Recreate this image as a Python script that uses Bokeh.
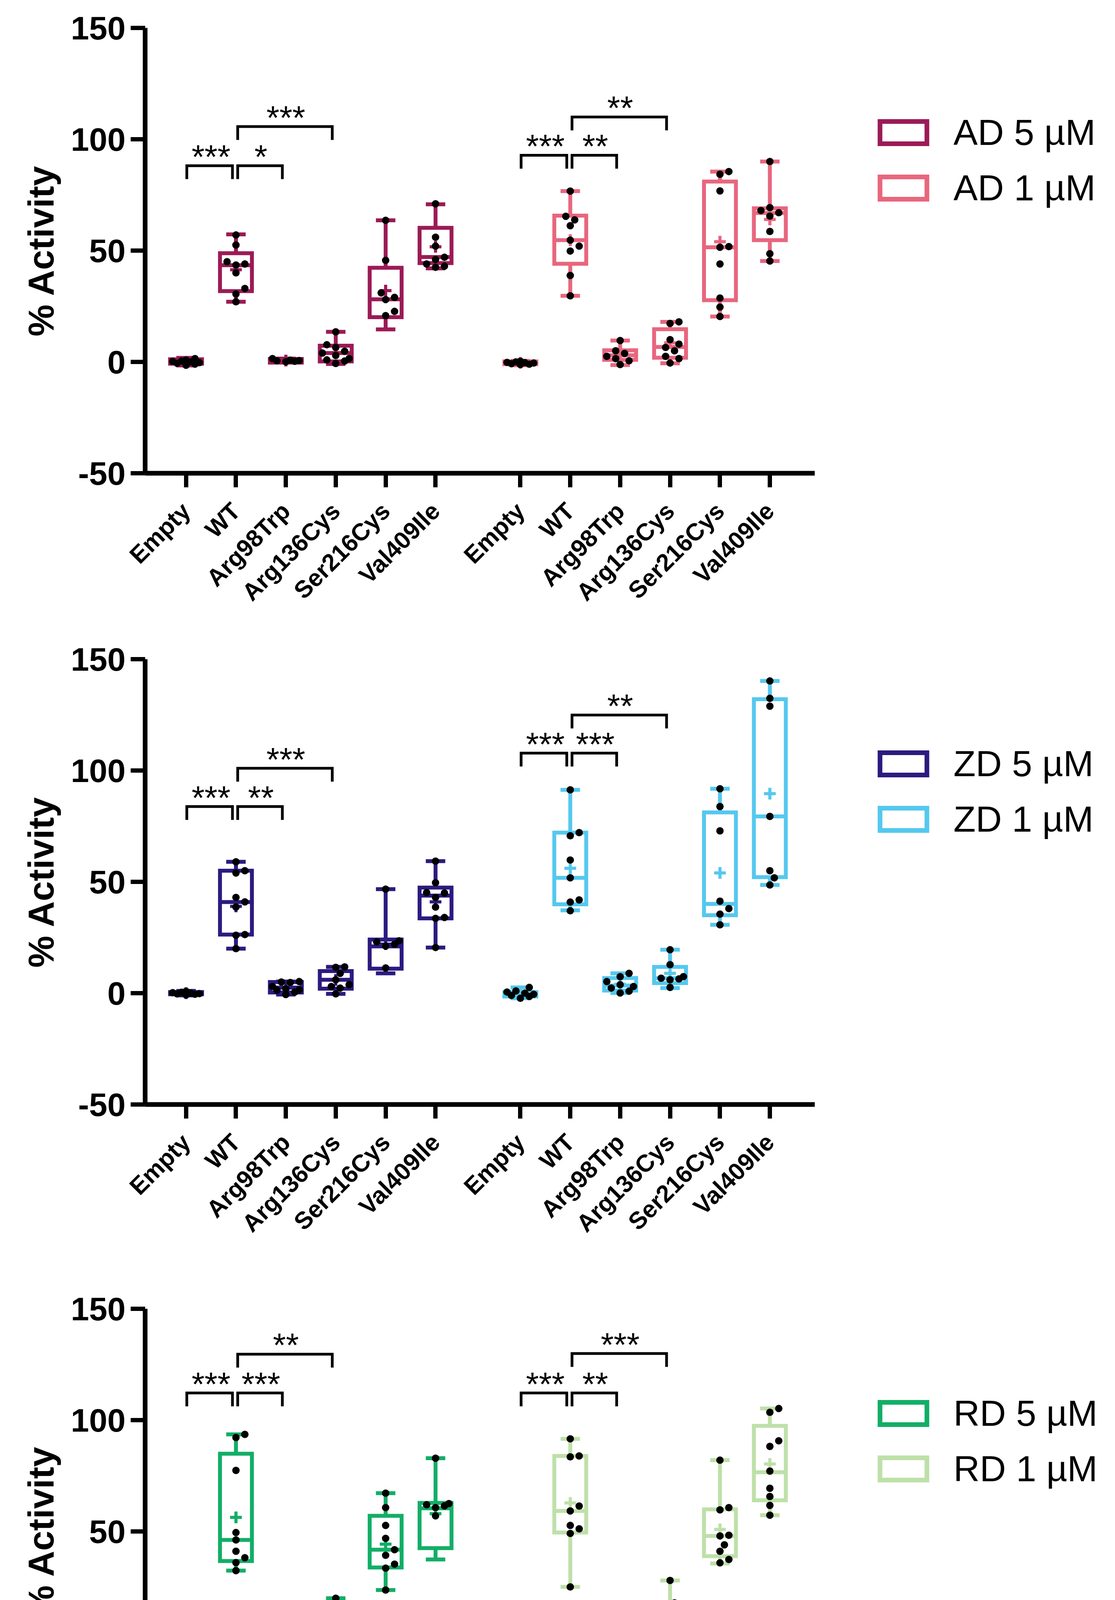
import math
from bokeh.plotting import figure
from bokeh.models import Range1d, FixedTicker, ColumnDataSource
from bokeh.layouts import column, row
from bokeh.embed import file_html
from bokeh.resources import INLINE
from bokeh.core.properties import value

# ---------------- data ----------------
categories = ["Empty", "WT", "Arg98Trp", "Arg136Cys", "Ser216Cys", "Val409Ile"]
y_ticks = [-50, 0, 50, 100, 150]
y_tick_labels = ["-50", "0", "50", "100", "150"]
y_label = "% Activity"

# Panel 1 : AD 5 uM
AD5_points = [[1.5, 0.8, 0.4, 0.0, -0.3, -0.6, -1.0, -1.5, 0.2],
              [57, 52.5, 45, 44, 43.5, 40, 33, 30.5, 27],
              [1.5, 0.8, 0.5, 0.3, 0.1, 0.6],
              [13.5, 7.7, 6.5, 4.8, 4.0, 2.9, 1.5, 0.9, 0.4, -0.7],
              [63.6, 45.6, 31, 29, 28, 22.7, 20.8],
              [71, 56, 52, 47, 46, 44, 43, 42.5]]
AD5_min = [-1.6, 27, 0.0, -0.9, 14.6, 42]
AD5_q1 = [-0.8, 31.8, -0.3, 0.2, 20.1, 44.4]
AD5_med = [0.0, 43.4, 0.5, 4.0, 28.1, 47.1]
AD5_q3 = [1.2, 48.8, 1.3, 7.3, 42.3, 60.2]
AD5_max = [1.8, 57.3, 1.5, 13.5, 63.6, 70.8]
AD5_mean = [0.0, 41.4, 0.6, 4.0, 32.0, 51.7]

# Panel 1 : AD 1 uM
AD1_points = [[0.3, 0.0, -0.3, -0.5, -0.8, -1.0, -1.2, -0.2],
              [76.7, 65.4, 63.8, 61.2, 54.7, 52, 49.8, 38.8, 29.7],
              [9.6, 5.0, 3.8, 2.5, 1.5, 0.5, -1.2],
              [18, 17.3, 10, 8, 6.5, 5, 2.5, 1.5, -0.5],
              [85.5, 84.3, 76.8, 51.8, 51.5, 44, 28.7, 24.6, 20.4],
              [90, 69.3, 68, 67, 65.5, 58.6, 48.6, 45.3]]
AD1_min = [-1.5, 29.7, -1.4, -0.6, 20.4, 45.3]
AD1_q1 = [-1.0, 44.1, 0.9, 1.9, 27.7, 54.7]
AD1_med = [-0.4, 54.7, 3.0, 6.7, 51.5, 66.9]
AD1_q3 = [0.2, 65.7, 5.2, 14.7, 81.0, 69.0]
AD1_max = [0.5, 76.7, 9.6, 18.0, 85.5, 90.0]
AD1_mean = [-0.4, 54.7, 3.1, 8.6, 54.0, 64.0]

# Panel 2 : ZD 5 uM
ZD5_points = [[0.8, 0.4, 0.1, -0.2, -0.5, -0.8, 0.2, -0.3],
              [59, 55, 54, 43, 41, 38.7, 26.3, 26, 20],
              [5.2, 5.0, 4.8, 3.0, 2.0, 1.5, 1.3, 0.5, -0.6],
              [11.8, 11.6, 8.9, 6.0, 3.8, 3.0, 2.3, -0.3],
              [46.7, 23.5, 23.0, 22.0, 21.2, 11.3],
              [59.3, 49.6, 45.2, 45.0, 43, 38.7, 34, 33.6, 20.5]]
ZD5_min = [-1.0, 20, -0.6, -0.3, 8.9, 20.5]
ZD5_q1 = [-0.5, 26.3, 0.3, 2.0, 11.0, 33.6]
ZD5_med = [0.0, 40.9, 2.5, 6.0, 21.0, 43.8]
ZD5_q3 = [0.5, 55.0, 5.0, 9.9, 24.1, 47.4]
ZD5_max = [1.0, 59.0, 5.2, 11.8, 46.7, 59.3]
ZD5_mean = [0.0, 39.0, 2.5, 5.9, 22.0, 41.0]

# Panel 2 : ZD 1 uM
ZD1_points = [[2.6, 1.0, 0.5, 0.0, -0.5, -1.0, -1.5, -2.3],
              [91.3, 72.1, 70.7, 59.8, 51.8, 41.9, 40.9, 37.0],
              [8.9, 7.4, 5.2, 3.8, 3.0, 2.3, 0.9, 0.1],
              [19.5, 12.8, 7.4, 6.7, 6.4, 6.0, 2.6],
              [91.8, 83.8, 72.9, 41.3, 38.0, 35.5, 30.7],
              [140.2, 132.4, 128.9, 79.4, 55.0, 51.8, 48.6]]
ZD1_min = [-2.3, 37.2, 0.1, 2.3, 30.7, 48.6]
ZD1_q1 = [-1.5, 39.9, 1.2, 4.5, 35.0, 52.1]
ZD1_med = [-0.3, 51.8, 3.4, 6.7, 40.1, 79.4]
ZD1_q3 = [0.5, 72.1, 6.8, 11.8, 81.2, 132.0]
ZD1_max = [2.6, 91.3, 8.9, 19.5, 91.8, 140.2]
ZD1_mean = [-0.2, 56.1, 4.0, 8.9, 54.0, 89.6]

# Panel 3 : RD 5 uM
RD5_points = [[0.6, 0.3, 0.0, -0.2, -0.4, -0.6, 0.1, -0.1],
              [93.6, 92.2, 77.4, 49.5, 46.2, 41.1, 38.2, 36.0, 32.4],
              [7.4, 7.2, 7.0, 3.6, 3.4, 2.2, 2.0, -0.7, -0.5],
              [20, 10.6, 9.1, 7.4, 5.5, 4.8, 4.6],
              [67.2, 60.7, 52.7, 46.9, 41.8, 39.3, 35.3, 33.5, 23.7],
              [82.9, 62.5, 62.0, 61.5, 60.7, 57.0]]
RD5_min = [-1.0, 32.4, -1.0, 4.5, 23.7, 37.4]
RD5_q1 = [-0.5, 36.7, 0.4, 4.8, 33.8, 42.5]
RD5_med = [0.0, 46.2, 3.4, 7.7, 41.8, 60.4]
RD5_q3 = [0.4, 84.9, 7.0, 11.3, 57.0, 62.8]
RD5_max = [0.8, 93.6, 7.4, 20.0, 67.2, 82.9]
RD5_mean = [0.0, 56.3, 3.5, 8.9, 44.3, 58.0]

# Panel 3 : RD 1 uM
RD1_points = [[0.5, 0.2, 0.0, -0.2, -0.4, -0.7, 0.1, -0.3],
              [91.6, 83.9, 83.5, 61.4, 59.2, 52.7, 51.2, 49.1, 25.1],
              [9.1, 8.4, 5.5, 4.8, 4.5, 4.1, 3.6],
              [28, 17.9, 14.7, 10.6, 8.9, 8.0, 7.0, 5.5],
              [82, 60.7, 59.7, 48.3, 48.0, 44.0, 41.1, 37.4, 35.9],
              [105.2, 103.5, 90.7, 88.2, 77.1, 69.4, 65.7, 61.7, 57.3]]
RD1_min = [-1.0, 25.1, 3.6, 5.5, 35.6, 57.3]
RD1_q1 = [-0.5, 49.5, 3.8, 6.5, 38.9, 64.0]
RD1_med = [0.0, 59.2, 5.0, 9.1, 48.0, 76.6]
RD1_q3 = [0.4, 83.9, 7.8, 16.4, 59.9, 97.4]
RD1_max = [0.8, 91.6, 9.1, 28.0, 82.0, 105.2]
RD1_mean = [-0.1, 62.8, 5.6, 12.6, 50.9, 80.3]

# significance brackets: compared pairs (category indices) and levels
bracket_pairs = [(0, 1), (1, 2), (1, 3)]
AD5_br_levels = [88.1, 88.1, 105.7]
AD5_br_stars = ["***", "*", "***"]
AD1_br_levels = [92.8, 92.8, 110.0]
AD1_br_stars = ["***", "**", "**"]
ZD5_br_levels = [83.8, 83.8, 101.0]
ZD5_br_stars = ["***", "**", "***"]
ZD1_br_levels = [107.8, 107.8, 124.9]
ZD1_br_stars = ["***", "***", "**"]
RD5_br_levels = [112.2, 112.2, 129.6]
RD5_br_stars = ["***", "***", "**"]
RD1_br_levels = [112.2, 112.2, 129.9]
RD1_br_stars = ["***", "**", "***"]

legend_labels = [["AD 5 µM", "AD 1 µM"], ["ZD 5 µM", "ZD 1 µM"], ["RD 5 µM", "RD 1 µM"]]
colors = [["#9B1B56", "#E8667E"], ["#2D1A80", "#55C8EE"], ["#12AE66", "#BEE0A8"]]

# ---------------- layout / style ----------------
FONT = "Liberation Sans"
GROUP_START = [0, 67]       # x-offset of each dose group
SPACING = 10
X_LEFT, X_RIGHT = -8.2, 126.0
MAIN_W = 2192
LEG_W = 646
FRAME_W = 1714
FRAME_H = 1140
XPPU = FRAME_W / (X_RIGHT - X_LEFT)
YPPU = FRAME_H / 200.0
BOX_HALF = 3.2
CAP_HALF = 1.95
DOT = 19


def swarm(vals, dia=DOT, max_half=36):
    n = len(vals)
    order = sorted(range(n), key=lambda i: vals[i])
    step = dia * 0.6
    cands = [0.0]
    k = 1
    while k * step <= max_half:
        cands += [k * step, -k * step]
        k += 1
    placed = []
    off = [0.0] * n
    for i in order:
        y = vals[i] * YPPU
        best, best_d = 0.0, -1
        for c in cands:
            md = min((math.hypot(c - px, y - py) for px, py in placed), default=1e9)
            if md >= dia * 0.98:
                best = c
                break
            if md > best_d:
                best_d, best = md, c
        placed.append((best, y))
        off[i] = best / XPPU
    return off


def draw_series(p, x0, color, pts, mn, q1, md, q3, mx, mean):
    xs = [x0 + SPACING * i for i in range(len(categories))]
    src = ColumnDataSource(dict(x=xs, l=[x - BOX_HALF for x in xs], r=[x + BOX_HALF for x in xs],
                                cl=[x - CAP_HALF for x in xs], cr=[x + CAP_HALF for x in xs],
                                mn=mn, q1=q1, md=md, q3=q3, mx=mx, mean=mean))
    p.segment(x0="x", y0="q3", x1="x", y1="mx", source=src, line_color=color, line_width=10)
    p.segment(x0="x", y0="q1", x1="x", y1="mn", source=src, line_color=color, line_width=10)
    p.segment(x0="cl", y0="mx", x1="cr", y1="mx", source=src, line_color=color, line_width=10)
    p.segment(x0="cl", y0="mn", x1="cr", y1="mn", source=src, line_color=color, line_width=10)
    p.quad(left="l", right="r", bottom="q1", top="q3", source=src, fill_color="white",
           line_color=color, line_width=10, line_join="miter")
    p.segment(x0="l", y0="md", x1="r", y1="md", source=src, line_color=color, line_width=10)
    p.scatter(x="x", y="mean", source=src, marker="cross", size=30, line_width=8, line_color=color)
    dx, dy = [], []
    for i, vals in enumerate(pts):
        offs = swarm(vals)
        dx += [xs[i] + o for o in offs]
        dy += list(vals)
    p.scatter(x=dx, y=dy, size=DOT, fill_color="black", line_color=None)


def draw_brackets(p, x0, levels, stars):
    xsl, ysl, tx, ty, tt = [], [], [], [], []
    for (a, b), lev, s in zip(bracket_pairs, levels, stars):
        xa = x0 + SPACING * a + (0.15 if a == 0 else 0.35)
        xb = x0 + SPACING * b - 0.7
        xsl.append([xa, xa, xb, xb])
        ysl.append([lev - 6, lev, lev, lev - 6])
        tx.append((x0 + SPACING * a + x0 + SPACING * b) / 2.0)
        ty.append(lev + 4.0)
        tt.append(s)
    p.multi_line(xs=xsl, ys=ysl, line_color="black", line_width=7, line_join="miter")
    p.text(x=tx, y=ty, text=tt, text_font=value(FONT), text_font_size="85px",
           text_align="center", text_baseline="alphabetic", text_color="black")


def make_panel(k, series, brackets, H, mbt, mbb):
    p = figure(width=MAIN_W, height=H, x_range=Range1d(X_LEFT, X_RIGHT), y_range=Range1d(-50, 150),
               output_backend="svg", toolbar_location=None,
               min_border_left=371, min_border_right=MAIN_W - 371 - FRAME_W,
               min_border_top=mbt, min_border_bottom=mbb)
    p.grid.visible = False
    p.outline_line_color = None
    p.background_fill_color = "white"
    p.border_fill_color = "white"
    ticks = []
    overrides = {}
    for g in GROUP_START:
        for i, c in enumerate(categories):
            ticks.append(g + SPACING * i)
            overrides[g + SPACING * i] = c
    p.xaxis.ticker = FixedTicker(ticks=ticks)
    p.xaxis.major_label_overrides = overrides
    p.xaxis.major_label_orientation = math.pi / 4
    p.yaxis.ticker = FixedTicker(ticks=y_ticks)
    p.yaxis.major_label_overrides = dict(zip(y_ticks, y_tick_labels))
    for ax in (p.xaxis, p.yaxis):
        ax.axis_line_width = 12
        ax.axis_line_color = "black"
        ax.major_tick_line_width = 11
        ax.major_tick_line_color = "black"
        ax.major_tick_in = 0
        ax.minor_tick_line_color = None
        ax.major_label_text_font = FONT
        ax.major_label_text_font_style = "bold"
        ax.major_label_text_color = "black"
    p.xaxis.major_tick_out = 36
    p.yaxis.major_tick_out = 37
    p.xaxis.major_label_text_font_size = "62px"
    p.yaxis.major_label_text_font_size = "84px"
    p.xaxis.major_label_standoff = 50
    p.yaxis.major_label_standoff = 13
    p.yaxis.axis_label = y_label
    p.yaxis.axis_label_text_font = FONT
    p.yaxis.axis_label_text_font_style = "bold"
    p.yaxis.axis_label_text_font_size = "92px"
    p.yaxis.axis_label_text_color = "black"
    p.yaxis.axis_label_standoff = 22
    for g, (col, s) in zip(GROUP_START, series):
        draw_series(p, g, col, *s)
    for g, (lev, st) in zip(GROUP_START, brackets):
        draw_brackets(p, g, lev, st)

    # legend panel: same vertical borders as the plot, so its frame shares the plot's y scale
    L = figure(width=LEG_W, height=H, x_range=Range1d(0, LEG_W), y_range=Range1d(-50, 150),
               output_backend="svg", toolbar_location=None,
               min_border_left=0, min_border_right=0, min_border_top=mbt, min_border_bottom=mbb,
               x_axis_location=None, y_axis_location=None)
    L.grid.visible = False
    L.outline_line_color = None
    for j in range(2):
        yc = 150 - (268 + 142 * j) / YPPU
        hh = 28.5 / YPPU
        L.quad(left=[60], right=[180], top=[yc + hh], bottom=[yc - hh], fill_color=None,
               line_color=colors[k][j], line_width=12, line_join="miter")
        L.text(x=[248], y=[yc + 1 / YPPU], text=[legend_labels[k][j]], text_font=value(FONT),
               text_font_size="93px", text_align="left", text_baseline="alphabetic",
               text_color="black")
    return row(p, L)


panels = [
    ([(colors[0][0], (AD5_points, AD5_min, AD5_q1, AD5_med, AD5_q3, AD5_max, AD5_mean)),
      (colors[0][1], (AD1_points, AD1_min, AD1_q1, AD1_med, AD1_q3, AD1_max, AD1_mean))],
     [(AD5_br_levels, AD5_br_stars), (AD1_br_levels, AD1_br_stars)], 1611, 71, 400),
    ([(colors[1][0], (ZD5_points, ZD5_min, ZD5_q1, ZD5_med, ZD5_q3, ZD5_max, ZD5_mean)),
      (colors[1][1], (ZD1_points, ZD1_min, ZD1_q1, ZD1_med, ZD1_q3, ZD1_max, ZD1_mean))],
     [(ZD5_br_levels, ZD5_br_stars), (ZD1_br_levels, ZD1_br_stars)], 1616, 76, 400),
    ([(colors[2][0], (RD5_points, RD5_min, RD5_q1, RD5_med, RD5_q3, RD5_max, RD5_mean)),
      (colors[2][1], (RD1_points, RD1_min, RD1_q1, RD1_med, RD1_q3, RD1_max, RD1_mean))],
     [(RD5_br_levels, RD5_br_stars), (RD1_br_levels, RD1_br_stars)], 1633, 123, 370),
]

rows = [make_panel(k, s, b, H, t, bt) for k, (s, b, H, t, bt) in enumerate(panels)]
layout = column(*rows, spacing=0)
open("out.html", "w").write(file_html(layout, INLINE))
